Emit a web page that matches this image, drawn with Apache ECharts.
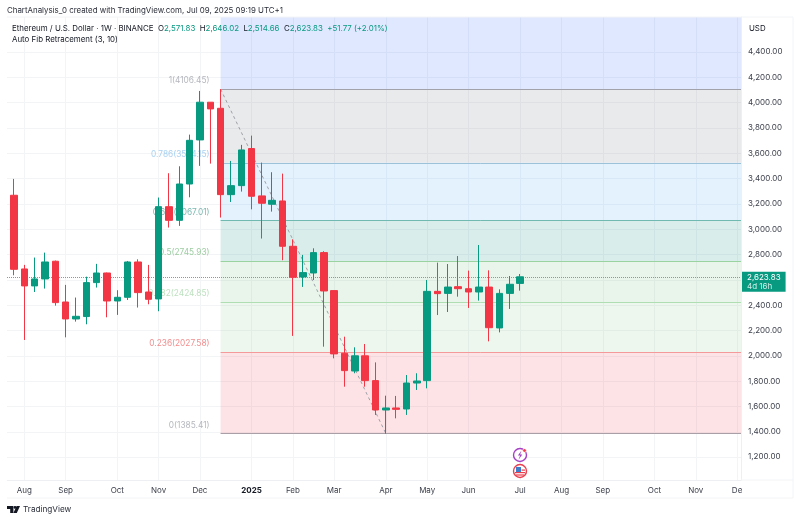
<!DOCTYPE html>
<html><head><meta charset="utf-8">
<style>html,body{margin:0;padding:0;background:#fff}#c{width:800px;height:521px}</style>
<script src="https://cdn.jsdelivr.net/npm/echarts@6/dist/echarts.min.js"></script>
</head><body><div id="c"></div>
<script>
// weekly candles [open, close, low, high]
const opens  = [3534,3268,2686,2552,2607,2747,2425,2291,2310,2578,2654,2433,2462,2741,2504,2449,3178,3070,3357,3705,4003,3955,3273,3344,3637,3263,3197,3223,2865,2623,2654,2815,2515,2020,1880,2000,1804,1572,1588,1580,1785,1804,2509,2493,2546,2530,2504,2543,2220,2493,2571.83];
const closes = [3271,2683,2552,2607,2741,2420,2291,2312,2578,2654,2433,2462,2741,2499,2446,3178,3070,3357,3702,4003,3950,3273,3344,3626,3260,3205,3228,2865,2620,2657,2815,2512,2015,1883,2000,1804,1572,1588,1577,1785,1801,2509,2491,2543,2530,2504,2543,2222,2493,2565,2623.83];
const lows   = [3271,2636,2125,2504,2531,2396,2146,2270,2249,2539,2304,2323,2441,2381,2407,2352,3013,3026,3252,3500,3518,3092,3215,3297,3157,2926,3139,2755,2157,2544,2599,2072,1980,1756,1862,1756,1533,1385,1506,1533,1730,1743,2322,2346,2467,2378,2436,2114,2185,2370,2514.66];
const highs  = [3534,3397,2718,2776,2815,2752,2560,2460,2625,2726,2657,2518,2749,2762,2718,3250,3442,3497,3747,4092,4003,4106,3539,3666,3739,3526,3450,3439,2920,2797,2849,2826,2515,2151,2067,2093,1948,1685,1683,1848,1862,2599,2736,2725,2788,2673,2875,2675,2525,2630,2646.02];

const monthIndex = [2,6,11,15,19,24,28,32,37,41,45,50,54,58,63,67,71];
const monthNames = ['Aug','Sep','Oct','Nov','Dec','2025','Feb','Mar','Apr','May','Jun','Jul','Aug','Sep','Oct','Nov','De'];
const priceTicks = [1200,1400,1600,1800,2000,2200,2400,2600,2800,3000,3200,3400,3600,3800,4000,4200,4400];

const fibRatios = ['1','0.786','0.618','0.5','0.382','0.236','0'];
const fibPrices = [4106.45,3524.15,3067.01,2745.93,2424.85,2027.58,1385.41];
const fibLine   = ['#a2a3aa','#9cc2da','#6fb9b0','#9ad39f','#aedeb1','#f49a9a','#a89fa7'];
const fibText   = ['#a3a5ad','#93c6ee','#5aa69c','#85c08a','#abd8ae','#ee6f6f','#a3a5ad'];
const fibFill   = ['rgba(41,98,255,0.15)','rgba(120,123,134,0.16)','rgba(33,150,243,0.12)','rgba(0,137,123,0.15)','rgba(76,175,80,0.12)','rgba(76,175,80,0.10)','rgba(242,54,69,0.14)'];

const lastPrice = 2623.83;
const fibStart = 21, fibEnd = 37;
const xMin = 0.322, xMax = 71.38, yMin = 1019, yMax = 4676;
const UP = '#089981', DOWN = '#f23645';
const FONT = 'Inter, "Liberation Sans", sans-serif';

const candles = opens.map((o,i)=>[i,o,closes[i],lows[i],highs[i]]);
const bandTops = [yMax].concat(fibPrices);
const areas = fibFill.map((c,i)=>[
  {coord:[fibStart,bandTops[i]],itemStyle:{color:c}},
  {coord:[xMax,bandTops[i+1]]}
]);
const fibLines = fibPrices.map((p,i)=>[
  {coord:[fibStart,p],lineStyle:{color:fibLine[i],type:'solid',width:(i===0||i===6)?1.2:1},label:{show:false}},
  {coord:[xMax,p]}
]);
const priceLine = [[
  {coord:[xMin,lastPrice],lineStyle:{color:'#8c9a97',type:'dotted',width:1},
   label:{show:true,position:'end',distance:1,offset:[0,5],align:'left',
     formatter:'{a|2,623.83}\n{b|4d 16h}',backgroundColor:UP,padding:[1,5,1,5],
     rich:{a:{color:'#fff',fontSize:8,fontFamily:FONT,lineHeight:9},b:{color:'#cfeee8',fontSize:8,fontFamily:FONT,lineHeight:9}}}},
  {coord:[xMax,lastPrice]}
]];
const labelData = fibPrices.map((p,i)=>({
  value:[19.93,p],
  label:{formatter:fibRatios[i]+'('+p.toFixed(2)+')',color:fibText[i]}
}));

const chart = echarts.init(document.getElementById('c'),null,{renderer:'canvas'});
chart.setOption({
  animation:false,
  backgroundColor:'#fff',
  grid:{left:7,right:59,top:17,bottom:41,containLabel:false},
  xAxis:{type:'value',min:xMin,max:xMax,
    axisLine:{show:true,lineStyle:{color:'#eeeff2'}},axisTick:{show:false,customValues:monthIndex},
    splitLine:{show:true,lineStyle:{color:'#f3f4f6'}},
    axisLabel:{customValues:monthIndex,margin:6.5,color:'#3a3e4a',fontSize:8,fontFamily:FONT,hideOverlap:false,showMinLabel:true,showMaxLabel:true,
      formatter:v=>{const n=monthNames[monthIndex.indexOf(v)];return n==='2025'?'{b|2025}':n;},
      rich:{b:{fontWeight:'bold',fontSize:8,color:'#131722',fontFamily:FONT}}}},
  yAxis:{type:'value',position:'right',min:yMin,max:yMax,scale:true,
    axisLine:{show:true,lineStyle:{color:'#eeeff2'}},axisTick:{show:false,customValues:priceTicks},
    splitLine:{show:true,lineStyle:{color:'#f3f4f6'}},
    axisLabel:{customValues:priceTicks,margin:7,padding:[3,0,0,0],color:'#3a3e4a',fontSize:8,fontFamily:FONT,
      formatter:v=>v.toLocaleString('en-US',{minimumFractionDigits:2})}},
  series:[
    {type:'line',name:'fib',z:1,data:[],silent:true,
      markArea:{silent:true,z:1,label:{show:false},data:areas},
      markLine:{silent:true,z:2,symbol:'none',data:fibLines.concat(priceLine)}},
    {type:'line',name:'trend',z:2,silent:true,symbol:'none',
      lineStyle:{color:'#9fa1a9',type:[3,3],width:1},
      data:[[fibStart,fibPrices[0]],[fibEnd,fibPrices[6]]]},
    {type:'scatter',name:'fibLabels',z:3,silent:true,symbolSize:0,clip:false,
      label:{show:true,position:'left',distance:0,offset:[0,-8.5],fontSize:8.3,fontFamily:FONT},
      data:labelData},
    {type:'candlestick',name:'ETHUSD',z:5,layout:'horizontal',barWidth:7,clip:true,
      encode:{x:0,y:[1,2,3,4]},
      itemStyle:{color:UP,color0:DOWN,borderColor:UP,borderColor0:DOWN,borderWidth:1},
      data:candles}
  ],
  graphic:[
    // page margin left of the plot: the first candle is cut off here
    {type:'rect',silent:true,z:10,shape:{x:0,y:0,width:6.6,height:521},style:{fill:'#fff'}},
    {type:'text',silent:true,z:20,style:{x:7,y:7,text:'ChartAnalysis_0 created with TradingView.com, Jul 09, 2025 09:19 UTC+1',fill:'#2a2e39',font:'7.9px '+FONT}},
    {type:'text',silent:true,z:20,style:{x:12,y:25,font:'7.9px '+FONT,fill:'#131722',
      text:'{k|Ethereum / U.S. Dollar · 1W · BINANCE  O}{v|2,571.83}{k|  H}{v|2,646.02}{k|  L}{v|2,514.66}{k|  C}{v|2,623.83}{v|  +51.77 (+2.01%)}',
      rich:{k:{fill:'#131722',font:'7.9px '+FONT},v:{fill:UP,font:'7.9px '+FONT}}}},
    {type:'text',silent:true,z:20,style:{x:12,y:36,text:'Auto Fib Retracement (3, 10)',fill:'#131722',font:'7.9px '+FONT}},
    {type:'text',silent:true,z:20,style:{x:749,y:25,text:'USD',fill:'#131722',font:'7.9px '+FONT}},
    {type:'polyline',silent:true,z:11,shape:{points:[[7,17],[793,17],[793,498],[7,498]]},style:{stroke:'#f3f4f6',fill:null}},
    {type:'line',silent:true,z:11,shape:{x1:741,y1:480,x2:793,y2:480},style:{stroke:'#f3f4f6'}},
    // TradingView mark
    {type:'polygon',silent:true,z:20,shape:{points:[[7,506],[13.4,506],[13.4,513],[10.2,513],[10.2,509],[7,509]]},style:{fill:'#131722'}},
    {type:'polygon',silent:true,z:20,shape:{points:[[16.6,506],[20,506],[16.8,513],[13.4,513]]},style:{fill:'#131722'}},
    {type:'circle',silent:true,z:20,shape:{cx:15,cy:507.4,r:1.4},style:{fill:'#131722'}},
    {type:'text',silent:true,z:20,style:{x:23,y:506,text:'TradingView',fill:'#2a2e39',font:'8.2px '+FONT}},
    // event icons
    {type:'circle',silent:true,z:20,shape:{cx:520,cy:455,r:6.5},style:{fill:'#fff',stroke:'#a53fc4',lineWidth:1.4}},
    {type:'polygon',silent:true,z:21,shape:{points:[[521.5,450.5],[517.9,455.5],[520.1,455.5],[518.5,459.7],[522.3,454.5],[520.1,454.5]]},style:{fill:'#a53fc4'}},
    {type:'circle',silent:true,z:22,shape:{cx:524.5,cy:450.5,r:1.8},style:{fill:'#f23645',stroke:'#fff',lineWidth:0.6}},
    {type:'circle',silent:true,z:20,shape:{cx:520,cy:471,r:6.5},style:{fill:'#fff',stroke:'#ea3f4e',lineWidth:1.4}},
    {type:'rect',silent:true,z:21,shape:{x:516,y:467,width:5,height:5},style:{fill:'#3d7cc9'}},
    {type:'rect',silent:true,z:21,shape:{x:515,y:472,width:10,height:1.2},style:{fill:'#ea3f4e'}},
    {type:'rect',silent:true,z:21,shape:{x:516,y:474.4,width:8,height:1.2},style:{fill:'#ea3f4e'}},
    {type:'rect',silent:true,z:21,shape:{x:521.5,y:469.5,width:3.5,height:1.2},style:{fill:'#ea3f4e'}}
  ]
});
</script></body></html>
